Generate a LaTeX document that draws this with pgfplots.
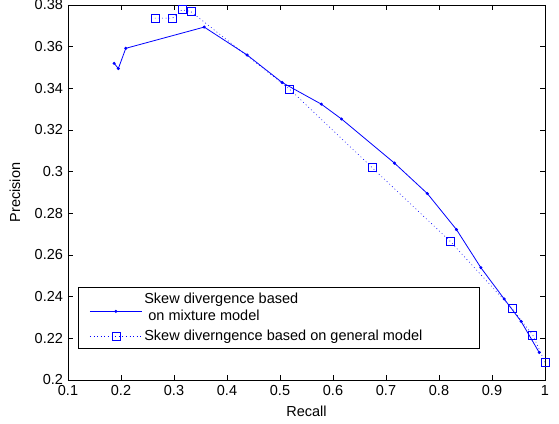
\documentclass[border=0pt]{standalone}
\usepackage{fontspec}
\setmainfont{Liberation Sans}
\usepackage{pgfplots}
\pgfplotsset{compat=1.18}
\definecolor{mblue}{HTML}{0000FF}

\begin{document}
\fontsize{14.5}{17}\selectfont
\begin{tikzpicture}
\useasboundingbox (-68pt,-43pt) rectangle (491pt,380pt);
\begin{axis}[
  scale only axis,
  width=477pt, height=375pt,
  xmin=0.1, xmax=1, ymin=0.2, ymax=0.38,
  xtick={0.1,0.2,0.3,0.4,0.5,0.6,0.7,0.8,0.9,1},
  xticklabels={0.1,0.2,0.3,0.4,0.5,0.6,0.7,0.8,0.9,1},
  ytick={0.2,0.22,0.24,0.26,0.28,0.3,0.32,0.34,0.36,0.38},
  yticklabels={0.2,0.22,0.24,0.26,0.28,0.3,0.32,0.34,0.36,0.38},
  tick align=inside,
  major tick length=5pt,
  tick style={black, line width=0.6pt},
  axis line style={black, line width=0.8pt},
  tick label style={font=\fontsize{14.5}{17}\selectfont},
  label style={font=\fontsize{14.5}{17}\selectfont},
  xlabel={Recall},
  ylabel={Precision},
  xlabel style={at={(axis description cs:0.5,-0.083)}, anchor=center},
  ylabel style={at={(axis description cs:-0.111,0.5)}, anchor=center},
  legend cell align=left,
  legend style={at={(0.021,0.083)}, anchor=south west, draw=black, line width=1pt,
    font=\fontsize{14.5}{17}\selectfont, inner xsep=11pt, inner ysep=3.5pt,
    nodes={align=left}, row sep=4pt},
  legend image code/.code={\draw[mark repeat=2,mark phase=2,#1] plot coordinates {(0pt,0pt) (26pt,0pt) (52pt,0pt)};},
]
\addplot[mblue, line width=0.8pt, mark=*, mark size=1.1pt,
  legend image post style={yshift=-4pt}] coordinates {
  (0.187,0.3520) (0.195,0.3495) (0.209,0.3592) (0.357,0.3694) (0.438,0.3560)
  (0.504,0.3428) (0.578,0.3324) (0.616,0.3253) (0.716,0.3041) (0.778,0.2895)
  (0.833,0.2722) (0.879,0.2539) (0.923,0.2389) (0.955,0.2281) (0.989,0.2132)
};
\addlegendentry{{Skew divergence based\\\hspace*{0.28em}on mixture model}}
\addplot[mblue, line width=0.6pt, dash pattern=on 0.8pt off 2.8pt, mark=square, mark size=4pt,
  mark options={solid, line width=0.8pt}] coordinates {
  (0.264,0.3737) (0.297,0.3737) (0.315,0.3777) (0.332,0.3768) (0.518,0.3396)
  (0.674,0.3019) (0.821,0.2666) (0.938,0.2342) (0.977,0.2215) (1.0,0.2085)
};
\addlegendentry{Skew diverngence based on general model\rule{44pt}{0pt}}
\end{axis}
\end{tikzpicture}
\end{document}
